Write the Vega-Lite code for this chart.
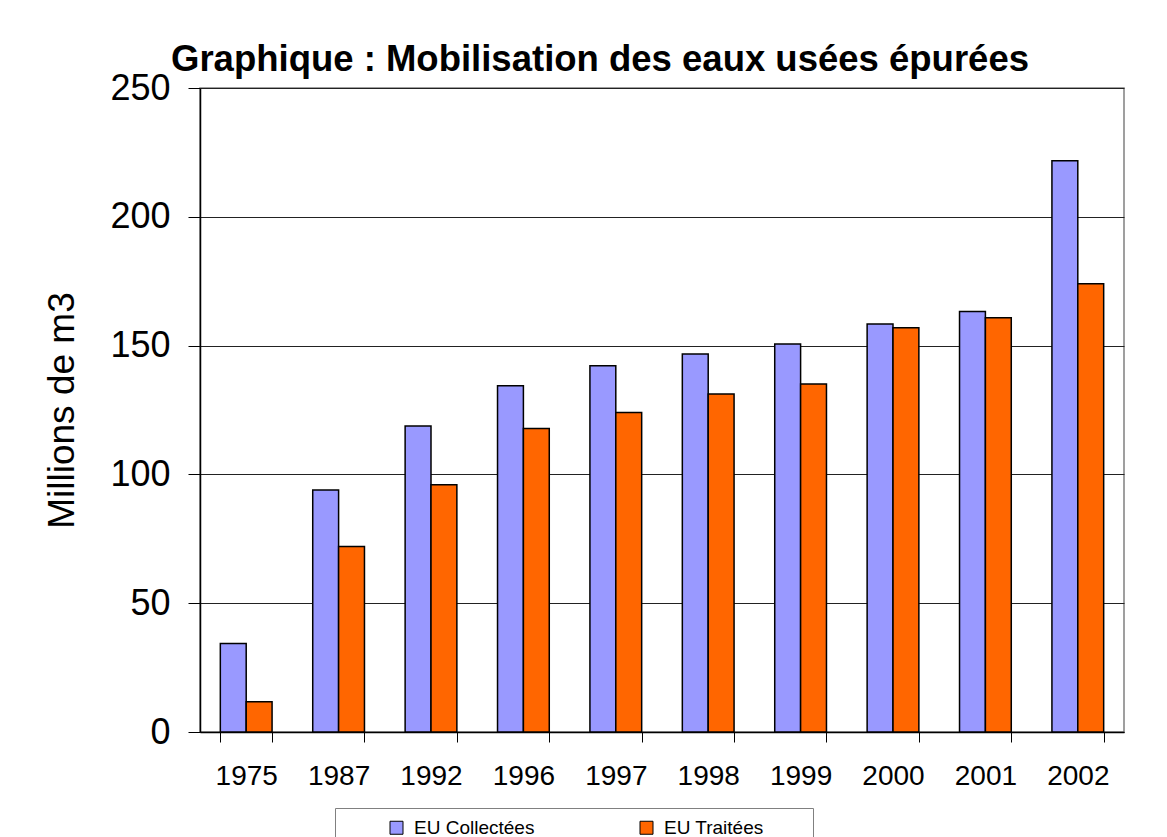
{
  "$schema": "https://vega.github.io/schema/vega-lite/v6.json",
  "width": 924,
  "height": 644,
  "autosize": "none",
  "padding": {"left": 200, "top": 88, "right": 43, "bottom": 105},
  "background": "white",
  "title": {
    "text": "Graphique : Mobilisation des eaux usées épurées",
    "font": "Liberation Sans",
    "fontSize": 36.5,
    "fontWeight": "bold",
    "color": "black",
    "anchor": "middle",
    "frame": "group",
    "dx": -62,
    "dy": 22,
    "offset": 14
  },
  "data": {
    "values": [
      {"year": "1975", "series": "EU Collectées", "value": 34.4},
      {"year": "1975", "series": "EU Traitées", "value": 11.7},
      {"year": "1987", "series": "EU Collectées", "value": 93.9},
      {"year": "1987", "series": "EU Traitées", "value": 72.0},
      {"year": "1992", "series": "EU Collectées", "value": 118.8},
      {"year": "1992", "series": "EU Traitées", "value": 96.0},
      {"year": "1996", "series": "EU Collectées", "value": 134.4},
      {"year": "1996", "series": "EU Traitées", "value": 117.8},
      {"year": "1997", "series": "EU Collectées", "value": 142.2},
      {"year": "1997", "series": "EU Traitées", "value": 124.0},
      {"year": "1998", "series": "EU Collectées", "value": 146.7},
      {"year": "1998", "series": "EU Traitées", "value": 131.2},
      {"year": "1999", "series": "EU Collectées", "value": 150.6},
      {"year": "1999", "series": "EU Traitées", "value": 135.1},
      {"year": "2000", "series": "EU Collectées", "value": 158.4},
      {"year": "2000", "series": "EU Traitées", "value": 156.9},
      {"year": "2001", "series": "EU Collectées", "value": 163.2},
      {"year": "2001", "series": "EU Traitées", "value": 160.8},
      {"year": "2002", "series": "EU Collectées", "value": 221.8},
      {"year": "2002", "series": "EU Traitées", "value": 174.0}
    ]
  },
  "mark": {"type": "bar", "stroke": "black", "strokeWidth": 1.5},
  "encoding": {
    "x": {
      "field": "year",
      "type": "nominal",
      "scale": {"paddingInner": 0.44, "paddingOuter": 0.22},
      "axis": {
        "title": null,
        "labelAngle": 0,
        "tickBand": "extent",
        "grid": false,
        "labelFont": "Liberation Sans",
        "labelFontSize": 28,
        "labelColor": "black",
        "labelPadding": 20,
        "tickSize": 10,
        "tickColor": "black",
        "domainColor": "black",
        "domainWidth": 1.5
      }
    },
    "xOffset": {"field": "series", "type": "nominal", "sort": ["EU Collectées", "EU Traitées"]},
    "y": {
      "field": "value",
      "type": "quantitative",
      "scale": {"domain": [0, 250], "nice": false},
      "axis": {
        "title": "Millions de m3",
        "values": [0, 50, 100, 150, 200, 250],
        "titleFont": "Liberation Sans",
        "titleFontSize": 37,
        "titleFontWeight": "normal",
        "titleColor": "black",
        "titlePadding": 28,
        "labelFont": "Liberation Sans",
        "labelFontSize": 36,
        "labelColor": "black",
        "labelPadding": 18,
        "tickSize": 12,
        "tickColor": "black",
        "domainColor": "black",
        "domainWidth": 1.5,
        "grid": true,
        "gridColor": "#222222",
        "gridWidth": 1
      }
    },
    "color": {
      "field": "series",
      "type": "nominal",
      "scale": {"domain": ["EU Collectées", "EU Traitées"], "range": ["#9999FF", "#FF6600"]},
      "legend": {
        "title": " ",
        "titleOrient": "right",
        "titlePadding": 39,
        "titleFontSize": 1,
        "orient": "none",
        "legendX": 135,
        "legendY": 720,
        "direction": "horizontal",
        "columns": 2,
        "columnPadding": 60,
        "padding": 10,
        "strokeColor": "#808080",
        "symbolType": "square",
        "symbolSize": 169,
        "symbolStrokeColor": "black",
        "symbolStrokeWidth": 1,
        "symbolOffset": 42,
        "labelOffset": 8,
        "labelFont": "Liberation Sans",
        "labelFontSize": 19,
        "labelColor": "black"
      }
    }
  },
  "config": {
    "view": {"stroke": "#808080", "strokeWidth": 1.5}
  }
}
